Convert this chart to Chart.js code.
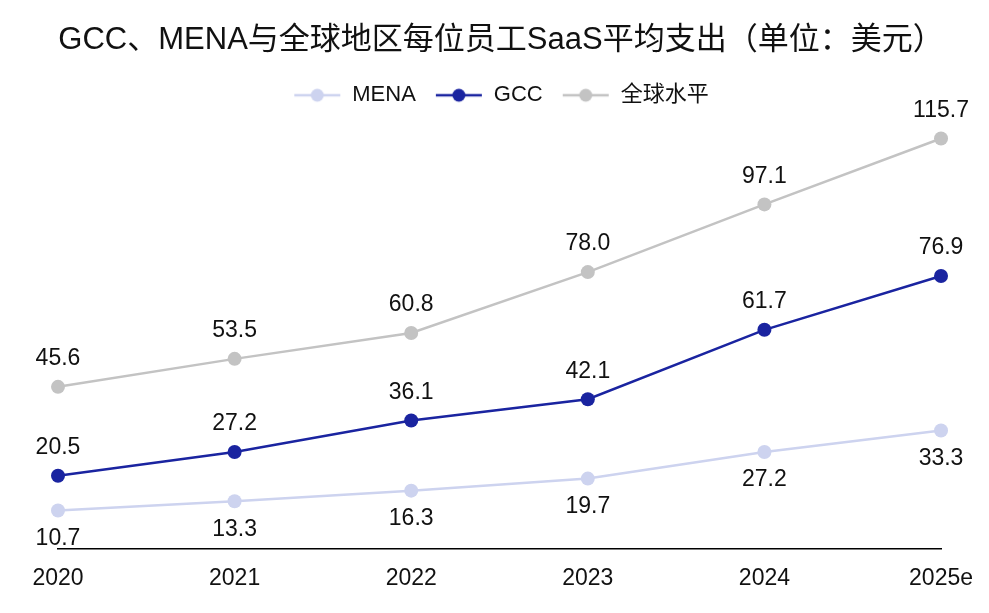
<!DOCTYPE html>
<html>
<head>
<meta charset="utf-8">
<script src="https://cdn.jsdelivr.net/npm/chart.js@4.4.1/dist/chart.umd.min.js"></script>
<style>
  html, body { margin: 0; padding: 0; background: #fff; }
  #wrap { width: 989px; height: 613px; }
</style>
</head>
<body>
<div id="wrap"><canvas id="saasChart"></canvas></div>
<script>
const YEARS = ["2020", "2021", "2022", "2023", "2024", "2025e"];
const MENA = [10.7, 13.3, 16.3, 19.7, 27.2, 33.3];
const GCC = [20.5, 27.2, 36.1, 42.1, 61.7, 76.9];
const GLOBAL = [45.6, 53.5, 60.8, 78.0, 97.1, 115.7];

const FONT = "'Liberation Sans', 'Noto Sans CJK SC', sans-serif";

// small line+dot swatch for the legend
function swatch(color){
  const c = document.createElement("canvas");
  c.width = 48; c.height = 16;
  const g = c.getContext("2d");
  g.strokeStyle = color; g.lineWidth = 2.5;
  g.beginPath(); g.moveTo(1, 8); g.lineTo(47, 8); g.stroke();
  g.fillStyle = color;
  g.beginPath(); g.arc(24, 8, 6.5, 0, Math.PI * 2); g.fill();
  return c;
}

// value labels: MENA below, the others above
const valueLabels = {
  id: "valueLabels",
  afterDatasetsDraw(chart){
    const ctx = chart.ctx;
    ctx.save();
    ctx.font = "23px " + FONT;
    ctx.fillStyle = "#111";
    ctx.textAlign = "center";
    ctx.textBaseline = "middle";
    chart.data.datasets.forEach((ds, i) => {
      const meta = chart.getDatasetMeta(i);
      meta.data.forEach((pt, j) => {
        const dy = ds.labelBelow ? 28 : -28;
        ctx.fillText(ds.data[j].toFixed(1), pt.x, pt.y + dy);
      });
    });
    ctx.restore();
  }
};

const series = [
  { label: "MENA", data: MENA, color: "#cdd3ef", below: true },
  { label: "GCC", data: GCC, color: "#1a24a0", below: false },
  { label: "全球水平", data: GLOBAL, color: "#c3c3c3", below: false }
];

const datasets = series.map(s => ({
  label: s.label,
  data: s.data,
  borderColor: s.color,
  backgroundColor: s.color,
  pointBackgroundColor: s.color,
  pointBorderWidth: 0,
  pointRadius: 7,
  borderWidth: 2.5,
  tension: 0,
  fill: false,
  labelBelow: s.below,
  pointStyle: "circle",
  swatch: swatch(s.color)
}));

new Chart(document.getElementById("saasChart"), {
  type: "line",
  data: { labels: YEARS, datasets },
  plugins: [valueLabels],
  options: {
    responsive: true,
    maintainAspectRatio: false,
    animation: false,
    layout: { padding: { left: 58, right: 45, top: 22, bottom: 5 } },
    plugins: {
      title: {
        display: true,
        text: "GCC、MENA与全球地区每位员工SaaS平均支出（单位：美元）",
        color: "#111",
        font: { family: FONT, size: 31, weight: "normal" },
        padding: { top: 0, bottom: 6 }
      },
      legend: {
        display: true,
        position: "top",
        labels: {
          usePointStyle: true,
          pointStyleWidth: 48,
          boxHeight: 16,
          color: "#111",
          font: { family: FONT, size: 22 },
          padding: 19,
          generateLabels(chart){
            return chart.data.datasets.map((ds, i) => ({
              text: ds.label,
              pointStyle: ds.swatch,
              fillStyle: ds.borderColor,
              strokeStyle: ds.borderColor,
              lineWidth: 0,
              hidden: false,
              datasetIndex: i,
              fontColor: "#111"
            }));
          }
        }
      },
      tooltip: { enabled: false }
    },
    scales: {
      x: {
        offset: false,
        grid: { display: false, drawTicks: false },
        border: { display: true, color: "#000", width: 1.5 },
        ticks: { color: "#111", font: { family: FONT, size: 23 }, padding: 16, maxRotation: 0 }
      },
      y: {
        display: false,
        min: 0,
        max: 122
      }
    }
  }
});
</script>
</body>
</html>
